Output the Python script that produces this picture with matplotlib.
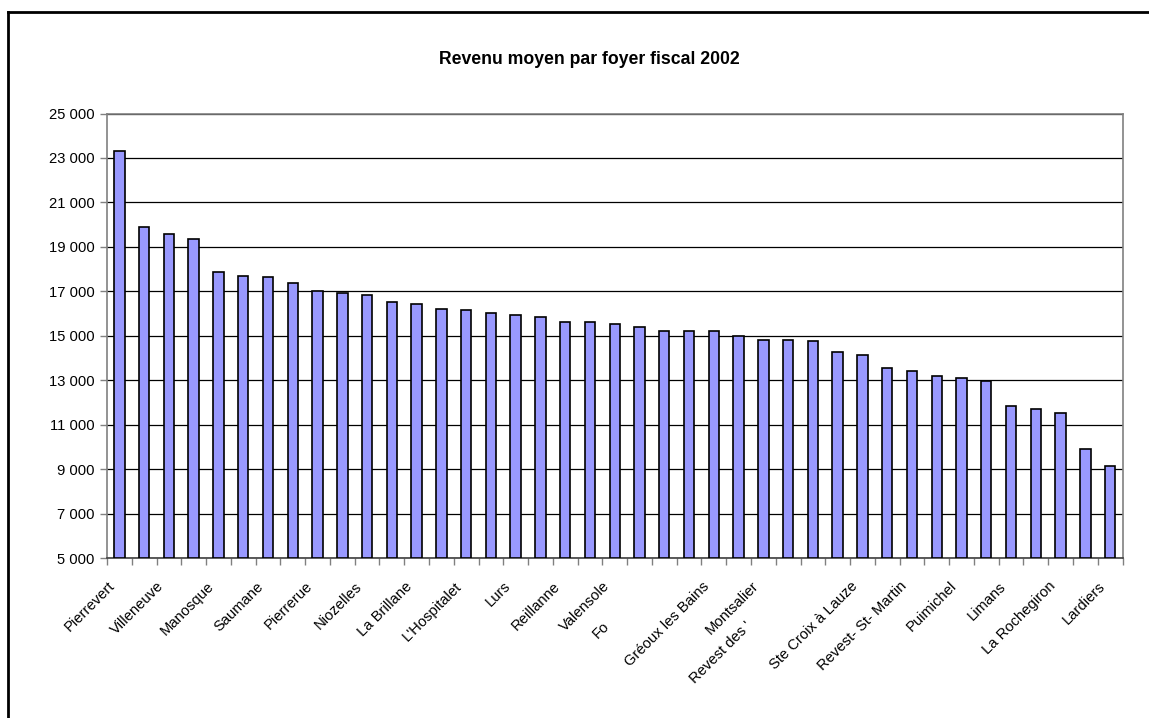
import matplotlib
matplotlib.use("Agg")
import matplotlib.pyplot as plt
from matplotlib.lines import Line2D
from matplotlib.ticker import FixedLocator, FuncFormatter
import matplotlib.transforms as mtransforms

plt.rcParams['font.family'] = ['Liberation Sans', 'DejaVu Sans']

title = "Revenu moyen par foyer fiscal 2002"

communes = ["Pierrevert", "", "Villeneuve", "", "Manosque", "", "Saumane", "",
            "Pierrerue", "", "Niozelles", "", "La Brillane", "", "L'Hospitalet", "",
            "Lurs", "", "Reillanne", "", "Valensole", "", "Fo", "",
            "Gréoux les Bains", "", "Montsalier", "", "Revest des '", "",
            "Ste Croix à Lauze", "", "Revest- St- Martin", "", "Puimichel", "",
            "Limans", "", "La Rochegiron", "", "Lardiers"]

revenu = [23330, 19900, 19580, 19360, 17870, 17700, 17650, 17390, 17000, 16930,
          16850, 16530, 16440, 16220, 16160, 16010, 15920, 15840, 15620, 15620,
          15540, 15380, 15230, 15230, 15230, 14990, 14830, 14830, 14750, 14290,
          14130, 13570, 13420, 13180, 13120, 12960, 11860, 11700, 11530, 9910, 9130]

y_ticks = [5000, 7000, 9000, 11000, 13000, 15000, 17000, 19000, 21000, 23000, 25000]

W, H = 1149, 718
fig = plt.figure(figsize=(W / 100, H / 100), dpi=100)
fig.patch.set_facecolor("white")

# axes area in pixels
left, right, top, bottom = 107, 1122.5, 113.5, 558
ax = fig.add_axes([left / W, 1 - bottom / H, (right - left) / W, (bottom - top) / H])

x = list(range(len(revenu)))
ax.bar(x, [v - y_ticks[0] for v in revenu], bottom=y_ticks[0], width=0.42,
       color="#9999FF", edgecolor="black", linewidth=1.2, zorder=3)

ax.set_xlim(-0.5, len(revenu) - 0.5)
ax.set_ylim(y_ticks[0], y_ticks[-1])

ax.yaxis.set_major_locator(FixedLocator(y_ticks))
ax.yaxis.set_major_formatter(FuncFormatter(lambda v, p: f"{int(v):,}".replace(",", " ")))
ax.grid(axis="y", color="black", linewidth=0.9, zorder=1)
ax.tick_params(axis="y", direction="out", length=5, width=1, color="#808080",
               labelsize=10.6, pad=4, labelcolor="black")

ax.xaxis.set_major_locator(FixedLocator([i - 0.5 for i in range(len(revenu) + 1)]))
ax.set_xticklabels([])
ax.tick_params(axis="x", direction="out", length=5, width=1, color="#808080")

for s in ["top", "right", "left"]:
    ax.spines[s].set_color("#808080")
    ax.spines[s].set_linewidth(1.2)
ax.spines["bottom"].set_color("#404040")
ax.spines["bottom"].set_linewidth(1.2)

# category labels (every other category shown)
trans = mtransforms.blended_transform_factory(ax.transData, ax.transAxes)
for i, name in enumerate(communes):
    if not name:
        continue
    if name == "Fo":
        ax.annotate(name, xy=(i, 0), xycoords=trans, xytext=(-69, -78),
                    textcoords="offset pixels", rotation=45, rotation_mode="anchor",
                    ha="left", va="center", fontsize=10.6, annotation_clip=False)
    elif name == "Revest des '":
        ax.annotate(name, xy=(i, 0), xycoords=trans, xytext=(-121, -123),
                    textcoords="offset pixels", rotation=45, rotation_mode="anchor",
                    ha="left", va="center", fontsize=10.6, annotation_clip=False)
    else:
        ax.annotate(name, xy=(i, 0), xycoords=trans, xytext=(-7, -26),
                    textcoords="offset pixels", rotation=45, rotation_mode="anchor",
                    ha="right", va="center", fontsize=10.6, annotation_clip=False)

fig.text(589 / W, 1 - 60 / H, title, ha="center", va="center",
         fontsize=12.7, fontweight="bold")

# chart frame (left and top edges visible)
fig.add_artist(Line2D([8 / W, 8 / W], [0, 1 - 12 / H], color="black", linewidth=2,
                      transform=fig.transFigure))
fig.add_artist(Line2D([8 / W, 1], [1 - 12 / H, 1 - 12 / H], color="black", linewidth=2,
                      transform=fig.transFigure))

fig.savefig("out.png", dpi=100)
